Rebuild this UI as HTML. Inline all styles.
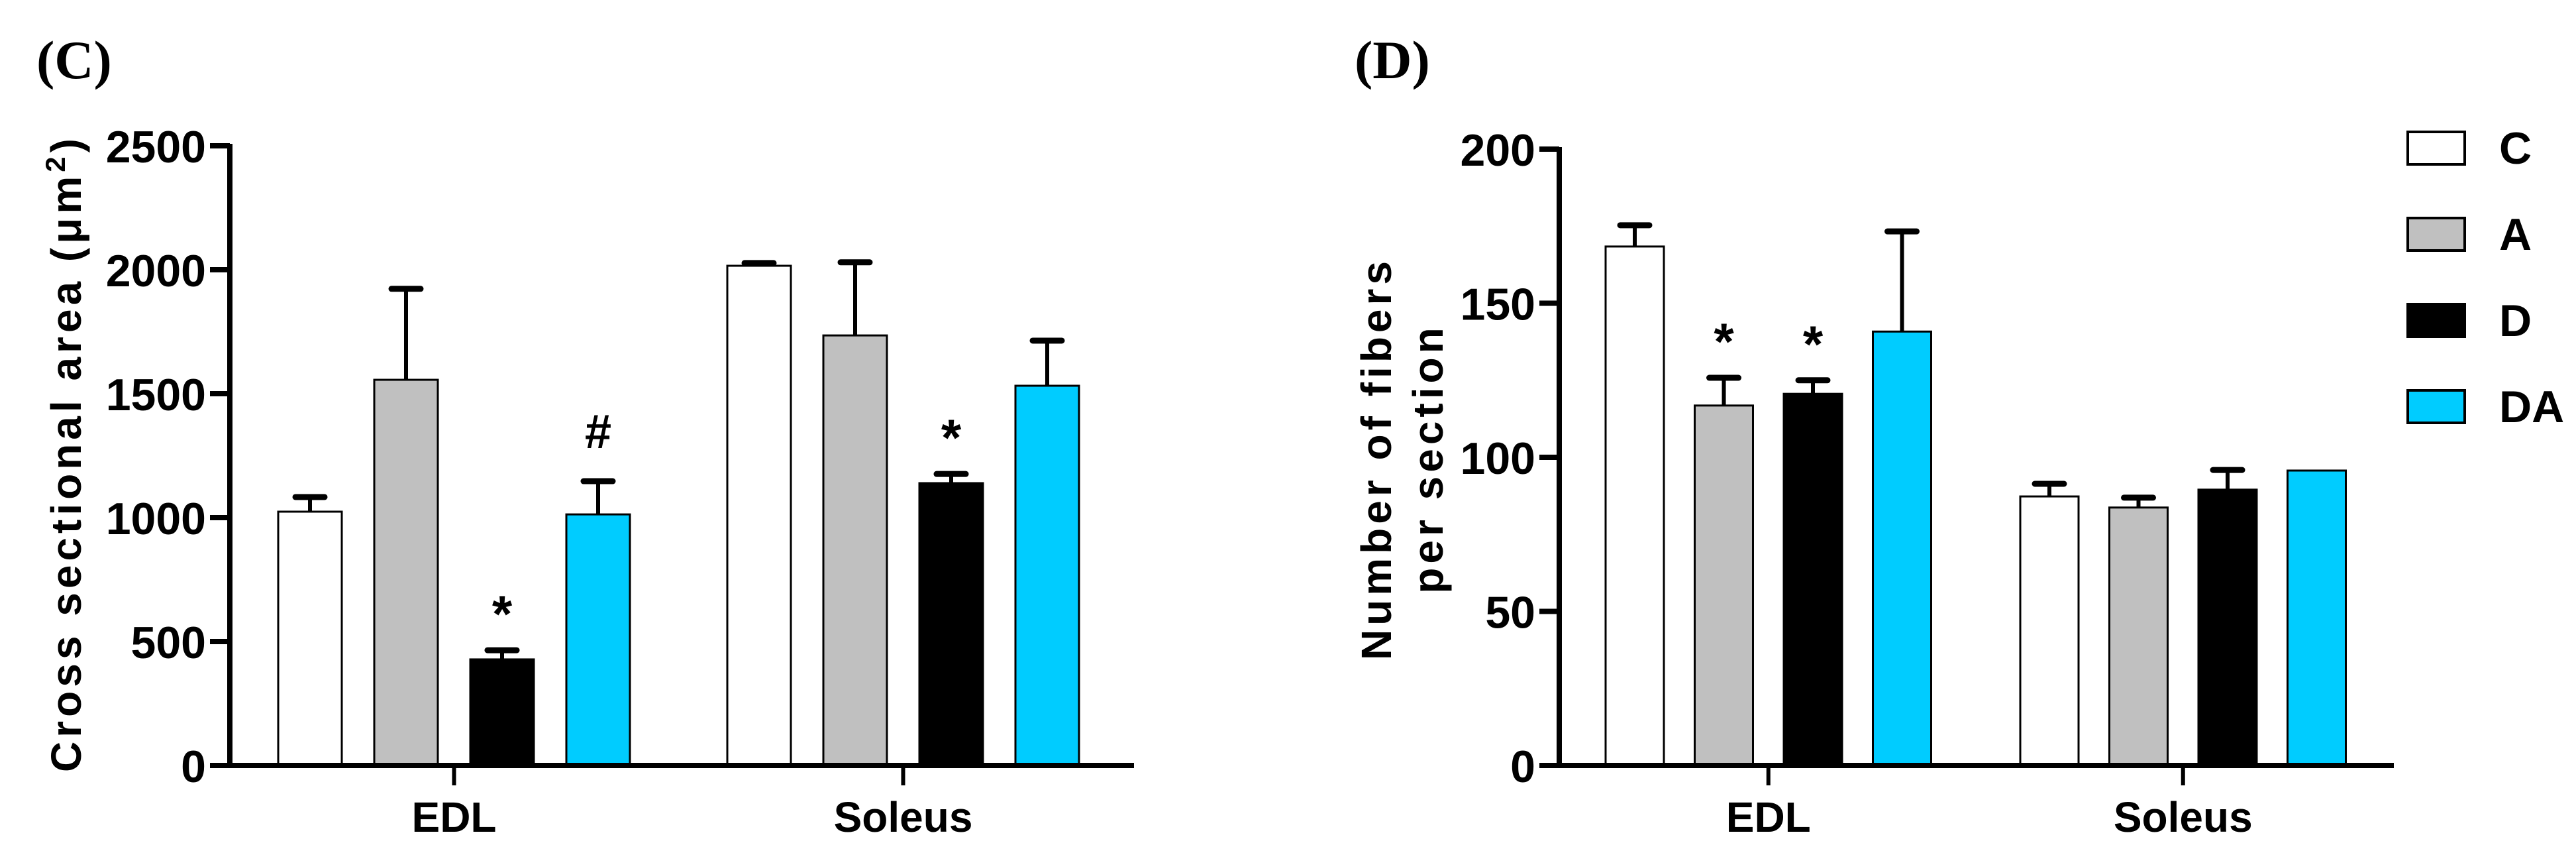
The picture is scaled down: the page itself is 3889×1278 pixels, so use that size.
<!DOCTYPE html>
<html><head><meta charset="utf-8">
<style>
html,body{margin:0;padding:0;background:#fff;}
svg{display:block;}
text{font-family:"Liberation Sans",Arial,sans-serif;font-weight:bold;fill:#000;}
</style></head>
<body>
<svg id="fig" width="3889" height="1278" viewBox="0 0 3889 1278" xmlns="http://www.w3.org/2000/svg">
<rect width="3889" height="1278" fill="#fff"/>
<text x="55" y="118" style="font-family:'Liberation Serif',serif;font-size:82px;font-weight:bold">(C)</text>
<text x="2045" y="118" style="font-family:'Liberation Serif',serif;font-size:82px;font-weight:bold">(D)</text>
<text transform="translate(122,684) rotate(-90)" text-anchor="middle" style="font-size:64px;letter-spacing:6px">Cross sectional area (μm<tspan dy="-24" style="font-size:42px">2</tspan><tspan dy="24">)</tspan></text>
<text transform="translate(2100,692) rotate(-90)" text-anchor="middle" style="font-size:64px;letter-spacing:6px">Number of fibers</text>
<text transform="translate(2178,692) rotate(-90)" text-anchor="middle" style="font-size:64px;letter-spacing:6px">per section</text>
<g id="chartC"></g>
<g id="chartD"></g>
<g id="legend"></g>
</svg>
<script>
const groups = ["EDL", "Soleus"];
const seriesNames = ["C", "A", "D", "DA"];
const seriesColors = ["#ffffff", "#c0c0c0", "#000000", "#00ccff"];
// Panel C: cross sectional area
const cMeans = [[1024, 1556, 428, 1013], [2016, 1735, 1139, 1532]];
const cErrors = [[59, 367, 37, 134], [11, 295, 37, 182]];
const cMarks = [["", "", "*", "#"], ["", "", "*", ""]];
const cTicks = [0, 500, 1000, 1500, 2000, 2500];
// Panel D: number of fibers
const dMeans = [[168.4, 116.8, 120.6, 140.8], [87.3, 83.7, 89.5, 95.7]];
const dErrors = [[6.9, 9.0, 4.4, 32.5], [4.1, 3.2, 6.4, 0]];
const dMarks = [["", "*", "*", ""], ["", "", "", ""]];
const dTicks = [0, 50, 100, 150, 200];

const NS = "http://www.w3.org/2000/svg";
function mk(parent, tag, attrs, text) {
  const el = document.createElementNS(NS, tag);
  for (const k in attrs) el.setAttribute(k, attrs[k]);
  if (text !== undefined) el.textContent = text;
  parent.appendChild(el);
  return el;
}

function drawChart(g, cfg, means, errs, marks, ticks) {
  const y = v => cfg.y0 - (v - 0) / cfg.max * (cfg.y0 - cfg.yTop);
  groups.forEach((grp, gi) => {
    means[gi].forEach((m, si) => {
      const x = cfg.gStart[gi] + si * cfg.step;
      const top = y(m);
      const e = errs[gi][si];
      if (e > 0) {
        const ey = y(m + e);
        const el = mk(g, "line", {x1: x + cfg.bw / 2, x2: x + cfg.bw / 2, y1: top, y2: ey, stroke: "#000", "stroke-width": 6});
        
        
        const cap = mk(g, "line", {x1: x + cfg.bw / 2 - 22, x2: x + cfg.bw / 2 + 22, y1: ey, y2: ey, stroke: "#000", "stroke-width": 9, "stroke-linecap": "round"});
        
        
      }
      const r = mk(g, "rect", {x: x, y: top, width: cfg.bw, height: cfg.y0 - top, fill: seriesColors[si], stroke: "#000", "stroke-width": 3});
      
      
      const mark = marks[gi][si];
      if (mark) {
        const ey = y(m + e);
        const t = mk(g, "text", {x: x + cfg.bw / 2, y: ey - (mark === "#" ? 50 : 28), "text-anchor": "middle", style: "font-size:" + (mark === "#" ? 72 : 78) + "px"}, mark);
        
        
      }
    });
  });
  const ya = mk(g, "line", {x1: cfg.ax, x2: cfg.ax, y1: cfg.yTop - 3, y2: cfg.y0 + 4, stroke: "#000", "stroke-width": 8});
  
  
  ticks.forEach(tv => {
    const ty = y(tv);
    const tl = mk(g, "line", {x1: cfg.ax - 30, x2: cfg.ax, y1: ty, y2: ty, stroke: "#000", "stroke-width": 8});
    
    
    const tt = mk(g, "text", {x: cfg.ax - 36, y: ty + 25, "text-anchor": "end", style: "font-size:68px"}, String(tv));
    
    
  });
  const xa = mk(g, "line", {x1: cfg.ax - 4, x2: cfg.xEnd, y1: cfg.y0, y2: cfg.y0, stroke: "#000", "stroke-width": 8});
  
  
  groups.forEach((grp, gi) => {
    const cx = cfg.gStart[gi] + (3 * cfg.step + cfg.bw) / 2;
    const tk = mk(g, "line", {x1: cx, x2: cx, y1: cfg.y0, y2: cfg.y0 + 30, stroke: "#000", "stroke-width": 6});
    
    
    const lb = mk(g, "text", {x: cx, y: cfg.y0 + 100, "text-anchor": "middle", style: "font-size:64px"}, grp);
    
    
  });
}

drawChart(document.getElementById("chartC"),
  {y0: 1155, yTop: 220, max: 2500, ax: 347, xEnd: 1712, gStart: [420, 1098], step: 145, bw: 96},
  cMeans, cErrors, cMarks, cTicks);
drawChart(document.getElementById("chartD"),
  {y0: 1155, yTop: 225, max: 200, ax: 2354, xEnd: 3614, gStart: [2424, 3050], step: 134.5, bw: 88},
  dMeans, dErrors, dMarks, dTicks);

const lg = document.getElementById("legend");
seriesNames.forEach((s, i) => {
  const yy = 199 + i * 130;
  const r = mk(lg, "rect", {x: 3635, y: yy, width: 86, height: 49, fill: seriesColors[i], stroke: "#000", "stroke-width": 4});
  
  
  const t = mk(lg, "text", {x: 3773, y: yy + 48, style: "font-size:68px"}, s);
  
  
});
</script>
</body></html>
